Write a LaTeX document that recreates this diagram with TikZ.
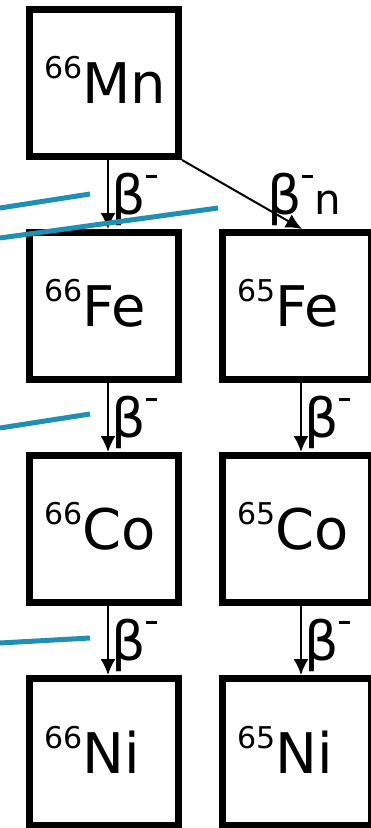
\documentclass[tikz,border=0pt]{standalone}
\usepackage{fontspec}
\setmainfont{DejaVu Sans}
\usetikzlibrary{positioning,arrows.meta}
\definecolor{trackblue}{RGB}{31,143,179}
\newcommand{\iso}[2]{\smash{\raisebox{25pt}{\fontsize{30}{30}\selectfont #1}}#2}
\newcommand{\bmin}{{\fontsize{54}{54}\selectfont β}\kern0.5pt\smash{\raisebox{37pt}{\rule{11pt}{2.5pt}}}}

\begin{document}
\begin{tikzpicture}[x=1pt, y=-1pt, node distance=69pt and 37pt,
    nucbox/.style={draw, line width=7pt, minimum width=149pt, minimum height=147pt,
      inner xsep=14.5pt, text width=120pt, align=left, font=\fontsize{56}{56}\selectfont},
    decay/.style={-{Latex[length=16pt,width=15pt]}, line width=2pt},
    lbl/.style={font=\fontsize{42}{42}\selectfont, inner sep=1pt, yshift=-5pt}]
  \useasboundingbox (0,0) rectangle (370,828);
  % nuclei
  \node[nucbox] (mn) at (104,83) {\iso{66}{Mn}};
  \node[nucbox,below=of mn] (fe66) {\iso{66}{Fe}};
  \node[nucbox,below=of fe66] (co66) {\iso{66}{Co}};
  \node[nucbox,below=of co66] (ni66) {\iso{66}{Ni}};
  \node[nucbox,right=of fe66] (fe65) {\iso{65}{Fe}};
  \node[nucbox,right=of co66] (co65) {\iso{65}{Co}};
  \node[nucbox,right=of ni66] (ni65) {\iso{65}{Ni}};
  % decays
  \draw[decay] ([xshift=4pt]mn.south) -- node[lbl,right=1pt] {\bmin} ([xshift=4pt]fe66.north);
  \draw[decay] ([xshift=4pt]fe66.south) -- node[lbl,right=1pt] {\bmin} ([xshift=4pt]co66.north);
  \draw[decay] ([xshift=4pt]co66.south) -- node[lbl,right=1pt] {\bmin} ([xshift=4pt]ni66.north);
  \draw[decay] ([xshift=4pt]fe65.south) -- node[lbl,right=1pt] {\bmin} ([xshift=4pt]co65.north);
  \draw[decay] ([xshift=4pt]co65.south) -- node[lbl,right=1pt] {\bmin} ([xshift=4pt]ni65.north);
  \draw[decay] (mn.south east) -- node[lbl,right=23pt] {\bmin\kern2pt n} ([xshift=5pt]fe65.north);
  % tracks
  \draw[trackblue, line width=5pt] (0,208) -- (90,194);
  \draw[trackblue, line width=5pt] (0,238) -- (218,208);
  \draw[trackblue, line width=5pt] (0,428) -- (90,414);
  \draw[trackblue, line width=5pt] (0,643) -- (90,638);
\end{tikzpicture}
\end{document}
